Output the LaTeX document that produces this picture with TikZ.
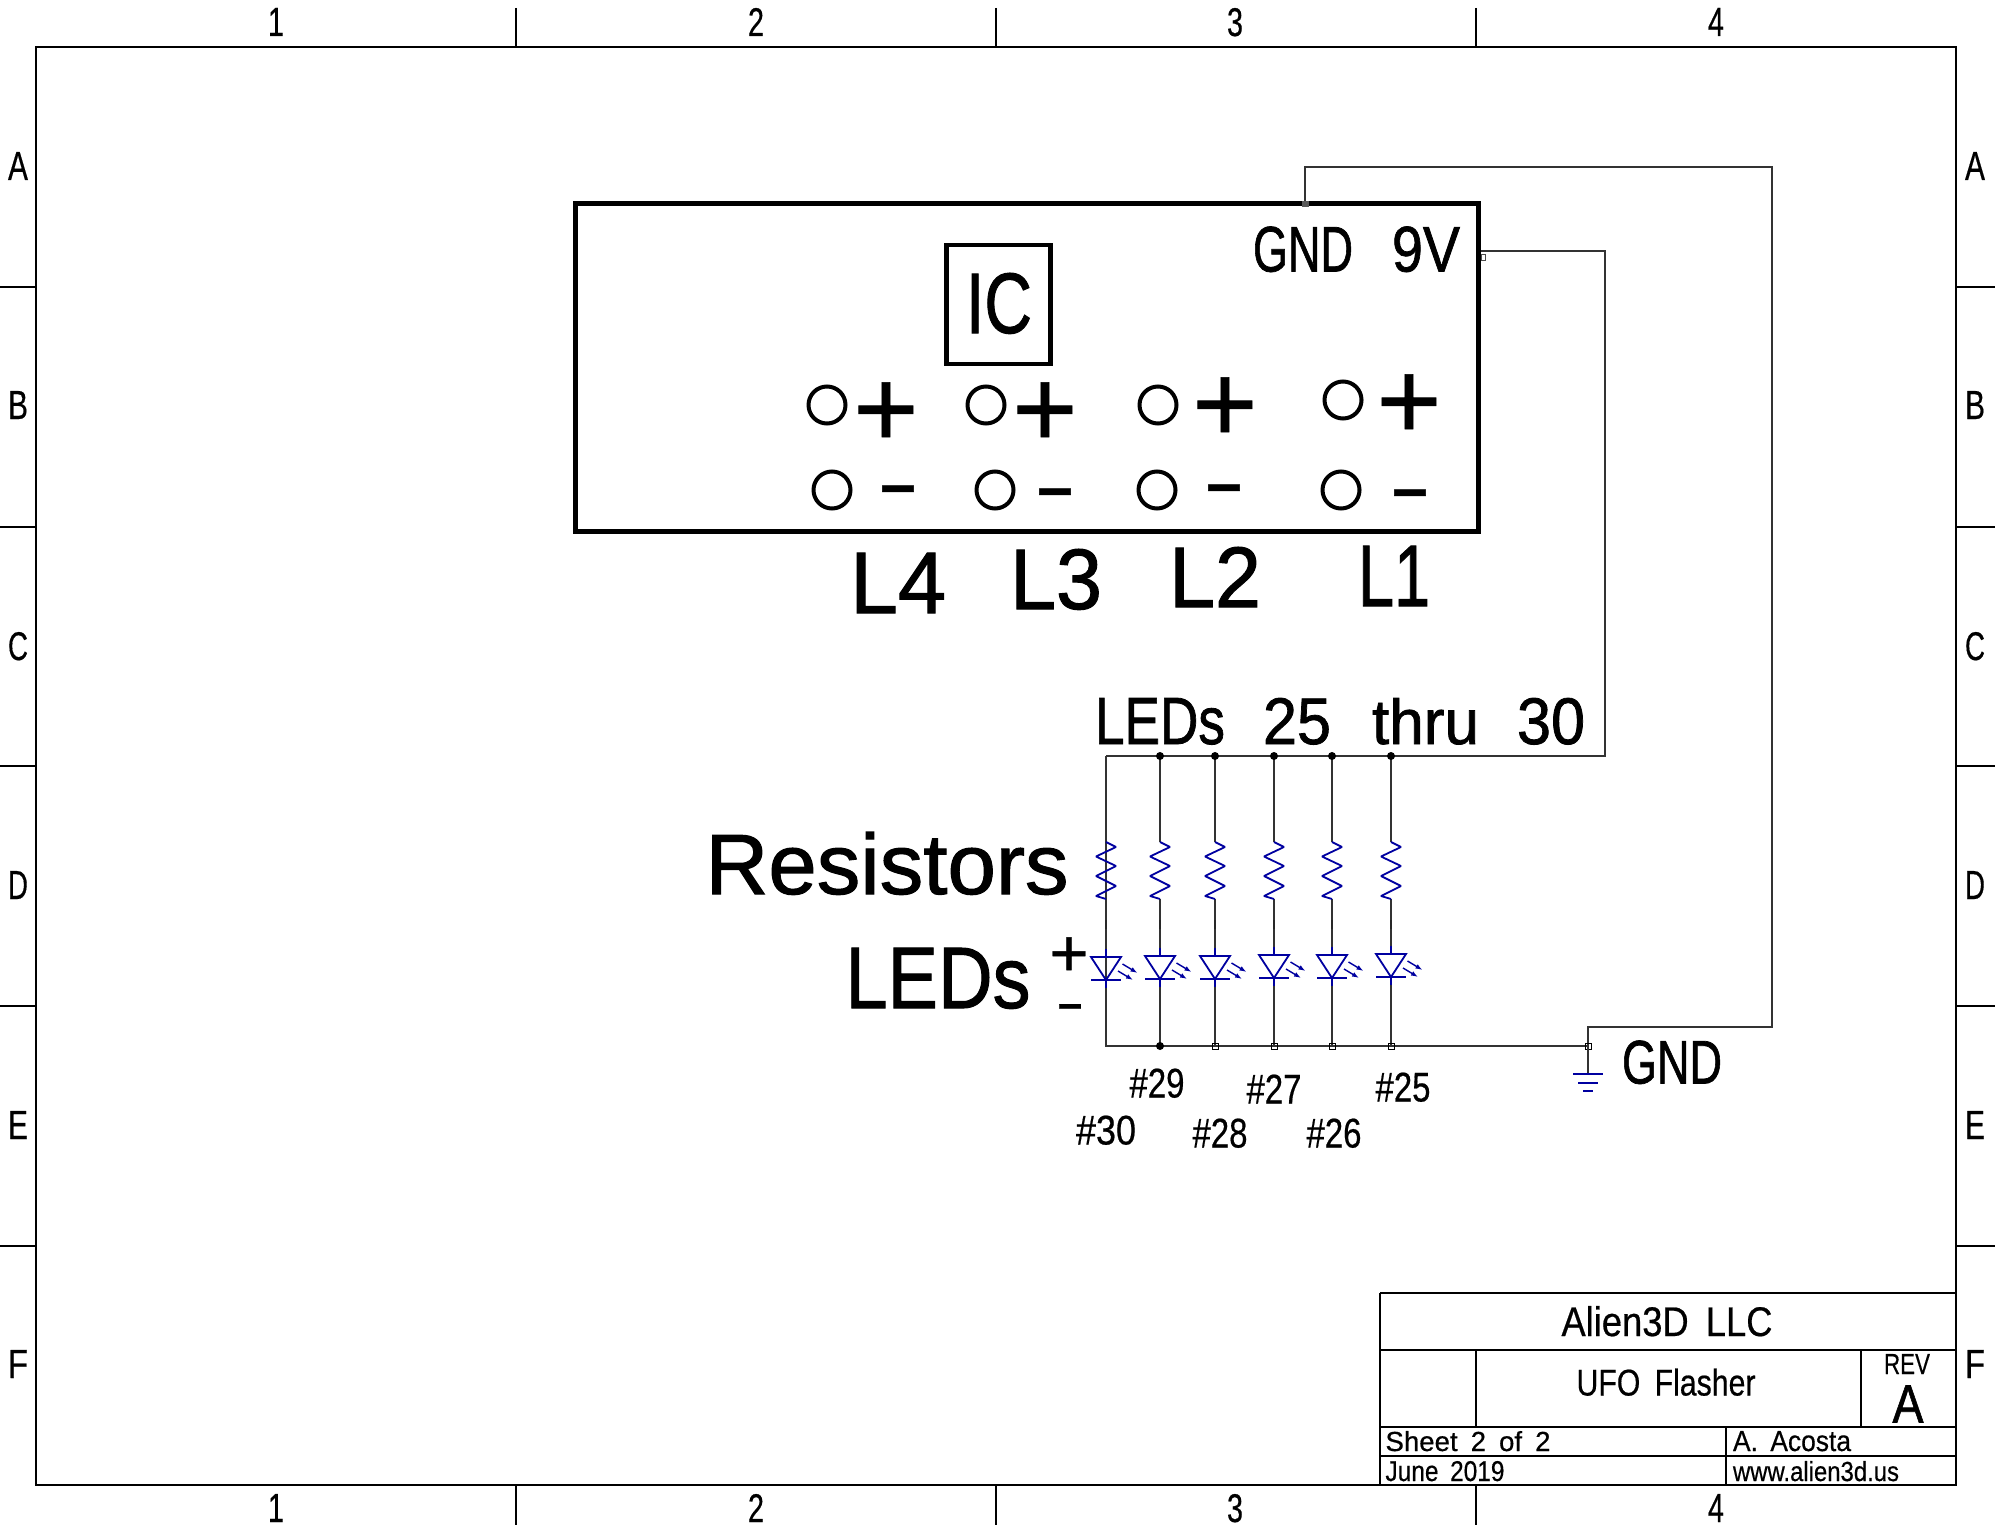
\documentclass[tikz,border=0pt]{standalone}
\usepackage{fontspec}
\usepackage{graphicx}
\setmainfont{Liberation Sans}[WordSpace=1.7,FakeBold=0.5,AutoFakeBold=false]
\newfontfamily\heavy{Liberation Sans}[WordSpace=1.7,FakeBold=1.2]
\usetikzlibrary{arrows.meta,calc}
\definecolor{symblue}{RGB}{0,0,160}
\tikzset{
  lab/.style={inner sep=0pt,outer sep=0pt,anchor=base,text=black},
  tick/.style={line width=1.5pt,black},
  titleline/.style={line width=2.2pt,black},
  wire/.style={line width=1.3pt,black!80},
  sym/.style={line width=1.8pt,symblue,line join=miter},
  ray/.style={line width=1.4pt,symblue,-{Latex[length=7pt,width=5pt]}},
  hole/.style={circle,draw=black,line width=4pt,fill=white,minimum size=37pt,inner sep=0pt},
  dot/.style={circle,fill=black,minimum size=8pt,inner sep=0pt},
  pinsq/.style={rectangle,draw=black,line width=0.9pt,fill=none,minimum size=6pt,inner sep=0pt}
}
% name, centre x, centre y, width, height, text
\newcommand{\mylab}[6]{\node[lab] (#1) at (#2,{#3+#5/2}) {\resizebox{#4pt}{#5pt}{#6}};}
% name, x, baseline y, font size, text
\newcommand{\mysym}[5]{\node[lab,font=\fontsize{#4pt}{#4pt}\selectfont] (#1) at (#2,#3) {#5};}
\newcommand{\wordbox}[2]{\resizebox{#1pt}{46pt}{\heavy #2}}
\begin{document}
\begin{tikzpicture}[x=1pt,y=-1pt]
\useasboundingbox (0,0) rectangle (2005,1525);
\fill[white] (0,0) rectangle (2005,1525);
% sheet frame
\node[draw=black,line width=2.4pt,minimum width=1920pt,minimum height=1438pt,inner sep=0pt,outer sep=0pt] (frame) at (996,766) {};
\foreach \x in {516,996,1476}{
  \draw[tick] (\x,8) -- (\x,47);
  \draw[tick] (\x,1485) -- (\x,1525);
}
\foreach \y in {287,527,766,1006,1246}{
  \draw[tick] (0,\y) -- (36,\y);
  \draw[tick] (1956,\y) -- (1995,\y);
}
\foreach \t/\x in {1/276,2/756,3/1235,4/1716}{
  \mylab{top\t}{\x}{22}{16}{28}{\t}
  \mylab{bot\t}{\x}{1508}{16}{28}{\t}
}
\foreach \t/\y in {A/166,B/405,C/646,D/885,E/1125,F/1364}{
  \mylab{left\t}{18}{\y}{20}{28}{\t}
  \mylab{right\t}{1975}{\y}{20}{28}{\t}
}
% title block
\draw[titleline] (1380,1293) -- (1956,1293);
\draw[titleline] (1380,1293) -- (1380,1485);
\draw[titleline] (1380,1350) -- (1956,1350);
\draw[titleline] (1380,1427) -- (1956,1427);
\draw[titleline] (1380,1456) -- (1956,1456);
\draw[titleline] (1476,1350) -- (1476,1427);
\draw[titleline] (1861,1350) -- (1861,1427);
\draw[titleline] (1726,1427) -- (1726,1485);
\mylab{tco}{1667}{1321}{211}{30}{Alien3D LLC}
\mylab{tname}{1666}{1382}{179}{27}{UFO Flasher}
\mylab{trev}{1907}{1364}{46}{20}{REV}
\mylab{tA}{1908}{1404}{31}{37}{\heavy A}
\mylab{tsheet}{1468}{1441}{165}{20}{Sheet 2 of 2}
\mylab{tdate}{1445}{1471}{119}{20}{June 2019}
\mylab{tauth}{1792}{1441}{118}{20}{A. Acosta}
\mylab{tweb}{1816}{1471}{166}{20}{www.alien3d.us}
% IC board
\node[draw=black,line width=5pt,minimum width=903pt,minimum height=327pt,inner sep=0pt,outer sep=0pt] (board) at (1027,367.5) {};
\node[draw=black,line width=4.5pt,minimum width=104pt,minimum height=119pt,inner sep=0pt,outer sep=0pt] (icbox) at (998.5,304.5) {};
\mylab{ic}{999}{303}{66}{60}{\heavy IC}
\mylab{gndpin}{1303}{249}{100}{45}{\heavy GND}
\mylab{vpin}{1426}{249}{68}{45}{\heavy 9V}
\foreach \n/\x/\y in {a/827/405,b/986/405,c/1158/405,d/1343/400,e/832/490,f/995/490,g/1157/490,h/1341/490}{
  \node[hole] (hole\n) at (\x,\y) {};
}
\mysym{p4}{886}{447}{112}{+}
\mysym{p3}{1045}{447}{112}{+}
\mysym{p2}{1225}{442}{112}{+}
\mysym{p1}{1409}{439}{112}{+}
\mysym{m4}{898}{510}{80}{\scalebox{1.6}[1]{-}}
\mysym{m3}{1055}{513}{80}{\scalebox{1.6}[1]{-}}
\mysym{m2}{1224}{509}{80}{\scalebox{1.6}[1]{-}}
\mysym{m1}{1410}{514}{80}{\scalebox{1.6}[1]{-}}
\mylab{l4}{898}{583}{96}{60}{\heavy L4}
\mylab{l3}{1056}{579}{92}{60}{\heavy L3}
\mylab{l2}{1215}{577}{92}{60}{\heavy L2}
\mylab{l1}{1394}{576}{72}{60}{\heavy L1}
% labels of the LED section
\node[lab] (ledsn) at (1340,744) {\wordbox{130}{LEDs}\hspace{38pt}\wordbox{68}{25}\hspace{41pt}\wordbox{107}{thru}\hspace{38pt}\wordbox{68}{30}};
\mylab{res}{887}{863}{363}{62}{\heavy Resistors}
\mylab{leds}{938}{978}{185}{60}{\heavy LEDs}
\mysym{lp}{1069}{976}{67}{+}
\mysym{lm}{1070}{1021}{55}{\scalebox{1.6}[1]{-}}
\mylab{gndr}{1672}{1062}{100}{43}{\heavy GND}
\mylab{n29}{1157}{1083}{55}{29}{\#29}
\mylab{n27}{1274}{1089}{55}{29}{\#27}
\mylab{n25}{1403}{1087}{55}{29}{\#25}
\mylab{n30}{1106}{1130}{60}{29}{\#30}
\mylab{n28}{1220}{1133}{55}{29}{\#28}
\mylab{n26}{1334}{1133}{55}{29}{\#26}
% supply wires
\coordinate (gndtap) at (1305,204);
\coordinate (vtap) at (1481,251);
\coordinate (gndnet) at (1588,1046);
\coordinate (railR) at (1391,756);
\coordinate (railL) at (1106,756);
\coordinate (busL) at (1106,1046);
\draw[wire] (gndtap) |- (1772,167) |- (1588,1027) -- (gndnet);
\draw[wire] (vtap) -| (1605,756) -- (railR) -- (railL);
\draw[wire] (railL) -- (busL) -- (gndnet);
\node[rectangle,fill=black!65,minimum width=7pt,minimum height=6pt,inner sep=0pt] (gndsq) at (gndtap) {};
\node[rectangle,draw=black!70,line width=0.9pt,minimum width=4pt,minimum height=6pt,inner sep=0pt] (vsq) at (1483,257) {};
\node[pinsq] (gndjn) at (gndnet) {};
% ground symbol
\draw[wire] (gndnet) -- (1588,1074);
\draw[sym] (1573,1074) -- (1603,1074);
\draw[sym] (1578,1083) -- (1598,1083);
\draw[sym] (1583,1091) -- (1593,1091);
% columns: number, x, LED vertical offset
\foreach \c/\x/\o in {1/1106/0,2/1160/-1,3/1215/-1,4/1274/-2,5/1332/-2,6/1391/-3}{
  \coordinate (top\c) at (\x,756);
  \coordinate (bot\c) at (\x,1046);
  \coordinate (rt\c) at (\x,842);
  \coordinate (rb\c) at (\x,899);
  \coordinate (la\c) at (\x,{949+\o});
  \coordinate (lk\c) at (\x,{988+\o});
  \draw[wire] (top\c) -- (rt\c);
  \draw[wire] (rb\c) -- (la\c);
  \draw[line width=2pt,black!85] (\x,920) -- (\x,929);
  \draw[wire] (lk\c) -- (bot\c);
  \draw[sym,line join=bevel] (rt\c) -- ++(10,5) -- ++(-20,9.5) -- ++(20,9.5) -- ++(-20,10) -- ++(20,10) -- ++(-20,10) -- (rb\c);
  \draw[sym] (la\c) -- ++(0,8) -- ++(-15,0) -- ++(15,23) -- ++(15,-23) -- ++(-15,0);
  \draw[sym] ($(la\c)+(-15,31)$) -- ++(30,0);
  \draw[sym] ($(la\c)+(0,31)$) -- (lk\c);
  \draw[ray] ($(la\c)+(16.5,15)$) -- ++(15,9);
  \draw[ray] ($(la\c)+(12,22)$) -- ++(15,9);
}
\foreach \c in {2,3,4,5,6}{ \node[dot] (jt\c) at (top\c) {}; }
\node[dot] (jb2) at (bot2) {};
\foreach \c in {3,4,5,6}{ \node[pinsq] (jb\c) at (bot\c) {}; }
\end{tikzpicture}
\end{document}
